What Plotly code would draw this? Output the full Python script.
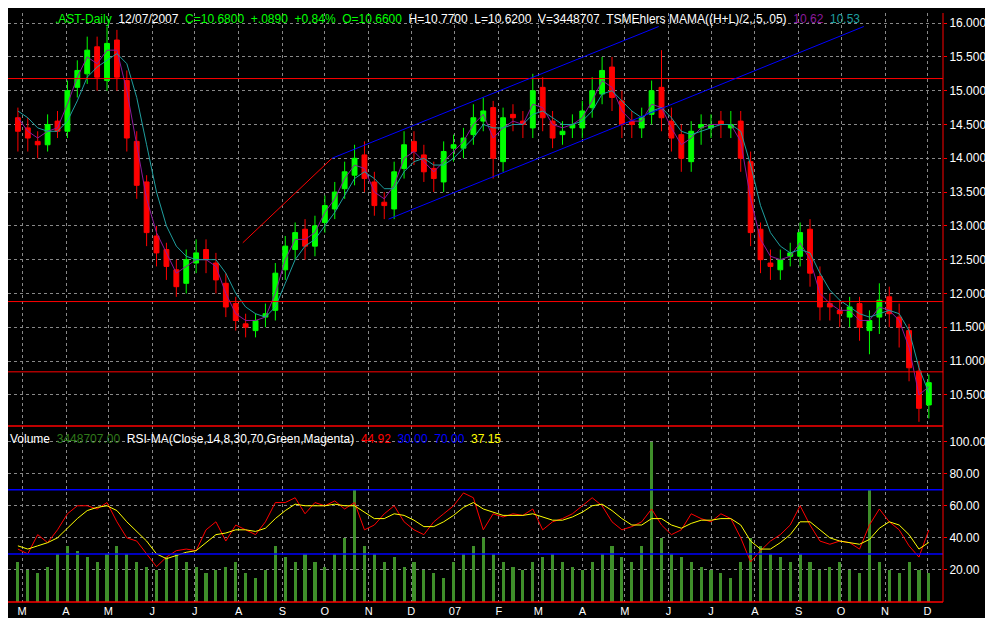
import pandas as pd
import plotly.graph_objects as go

# weekly bars
dates = pd.date_range("2006-02-26", periods=93, freq="7D")

closes = [14.4,14.3,14.2,14.5,14.4,15.0,15.3,15.6,15.2,15.7,
          15.2,14.3,13.6,12.9,12.6,12.4,12.1,12.5,12.6,12.5,
          12.2,11.8,11.6,11.5,11.6,11.7,12.3,12.7,12.9,12.7,
          13.0,13.3,13.5,13.8,14.0,13.7,13.3,13.3,13.8,14.2,
          14.1,13.8,13.7,14.1,14.2,14.3,14.6,14.7,14.0,14.6,
          14.6,14.5,15.0,14.6,14.3,14.4,14.5,14.7,15.0,15.3,
          14.9,14.5,14.5,14.6,15.0,14.6,14.3,14.0,14.4,14.5,
          14.5,14.5,14.5,14.0,12.9,12.5,12.4,12.5,12.6,12.9,
          12.3,11.8,11.8,11.7,11.8,11.5,11.6,11.9,11.7,11.5,
          10.9,10.3,10.68]
opens = [14.6,14.45,14.25,14.2,14.55,14.4,15.05,15.25,15.65,15.15,
         15.75,15.15,14.25,13.65,12.85,12.65,12.35,12.15,12.45,12.65,
         12.45,12.15,11.85,11.55,11.45,11.65,11.75,12.35,12.65,12.95,
         12.7,13.05,13.25,13.55,13.75,14.05,13.65,13.35,13.25,13.85,
         14.25,14.05,13.85,13.65,14.15,14.15,14.35,14.55,14.75,13.95,
         14.65,14.55,14.45,15.05,14.55,14.35,14.45,14.45,14.75,14.95,
         15.35,14.85,14.55,14.45,14.65,15.05,14.55,14.35,13.95,14.45,
         14.45,14.55,14.45,14.55,13.95,12.95,12.45,12.35,12.55,12.55,
         12.95,12.25,11.85,11.75,11.65,11.85,11.45,11.65,11.95,11.65,
         11.45,10.85,10.35]
highs = [14.75,14.6,14.4,14.65,14.7,15.15,15.45,15.8,15.8,15.95,
         15.9,15.3,14.4,13.75,13.0,12.75,12.5,12.65,12.8,12.8,
         12.6,12.3,11.95,11.7,11.7,11.85,12.45,12.85,13.05,13.1,
         13.15,13.45,13.65,13.95,14.2,14.25,13.8,13.5,13.95,14.4,
         14.4,14.2,13.95,14.25,14.35,14.45,14.8,14.9,14.85,14.75,
         14.8,14.7,15.25,15.2,14.7,14.55,14.65,14.85,15.2,15.5,
         15.5,15.0,14.7,14.75,15.15,15.6,14.75,14.5,14.55,14.65,
         14.65,14.7,14.7,14.7,14.1,13.05,12.65,12.65,12.75,13.05,
         13.1,12.4,12.0,11.9,11.95,11.95,11.75,12.15,12.1,11.85,
         11.55,11.0,10.8]
lows = [14.1,14.1,14.0,14.1,14.3,14.3,14.9,15.1,15.0,15.0,
        15.0,14.1,13.4,12.7,12.4,12.2,11.95,12.0,12.3,12.3,
        12.0,11.65,11.45,11.35,11.35,11.5,11.6,12.2,12.5,12.5,
        12.55,12.9,13.1,13.4,13.6,13.5,13.15,13.1,13.1,13.7,
        13.9,13.65,13.5,13.5,13.95,14.0,14.2,14.4,13.7,13.8,
        14.4,14.3,14.3,14.4,14.15,14.2,14.3,14.3,14.6,14.8,
        14.7,14.3,14.3,14.3,14.5,14.4,14.1,13.8,13.8,14.2,
        14.3,14.3,14.3,13.8,12.7,12.3,12.2,12.2,12.4,12.4,
        12.1,11.6,11.6,11.5,11.5,11.3,11.1,11.4,11.5,11.2,
        10.7,10.1,10.15]
mama = [14.6,14.4,14.3,14.4,14.45,14.8,15.2,15.5,15.4,15.6,
        15.6,15.0,14.2,13.4,12.9,12.6,12.3,12.4,12.5,12.5,
        12.4,12.0,11.7,11.6,11.6,11.65,12.0,12.5,12.8,12.8,
        12.9,13.2,13.4,13.7,13.9,13.85,13.5,13.4,13.6,14.0,
        14.1,13.95,13.8,13.95,14.1,14.25,14.5,14.65,14.3,14.45,
        14.55,14.5,14.8,14.75,14.5,14.45,14.5,14.6,14.85,15.15,
        15.05,14.7,14.55,14.55,14.8,14.75,14.45,14.2,14.3,14.45,
        14.5,14.5,14.5,14.25,13.4,12.8,12.55,12.5,12.55,12.75,
        12.5,12.0,11.85,11.75,11.75,11.6,11.6,11.8,11.75,11.6,
        11.2,10.5,10.62]
fama = [14.7,14.6,14.45,14.4,14.4,14.55,14.85,15.2,15.35,15.45,
        15.55,15.4,14.9,14.2,13.5,13.0,12.7,12.55,12.5,12.5,
        12.5,12.3,12.0,11.8,11.7,11.65,11.8,12.15,12.5,12.7,
        12.8,13.0,13.2,13.45,13.7,13.8,13.7,13.55,13.55,13.8,
        13.95,14.0,13.9,13.9,14.0,14.15,14.3,14.5,14.45,14.45,
        14.5,14.5,14.65,14.7,14.6,14.5,14.5,14.55,14.7,14.95,
        15.0,14.85,14.7,14.6,14.7,14.75,14.6,14.4,14.35,14.4,
        14.45,14.5,14.5,14.4,13.9,13.3,12.9,12.7,12.6,12.65,
        12.6,12.3,12.05,11.9,11.8,11.7,11.65,11.7,11.75,11.7,
        11.45,10.9,10.53]
rsi = [33,30,42,37,45,55,60,60,58,62,
       50,40,38,30,22,28,32,33,32,45,
       50,38,48,45,42,50,62,62,65,55,
       62,60,63,58,62,45,48,55,60,50,
       45,42,50,55,60,68,65,45,55,53,
       55,54,58,45,50,52,55,60,65,60,
       50,45,47,50,58,48,42,45,55,52,
       50,55,52,40,25,32,38,42,48,60,
       48,38,36,38,37,33,48,58,50,45,
       35,28,44.92]
rsi_ma = [35,33,35,37,40,46,52,57,59,60,
          57,50,44,38,30,27,29,31,32,37,
          42,43,45,45,44,46,52,57,61,60,
          60,60,61,60,60,56,52,52,55,54,
          51,47,47,50,54,59,62,58,56,54,
          54,54,55,53,51,51,53,56,60,61,
          57,52,48,48,52,52,48,46,49,51,
          51,52,52,48,38,33,33,37,42,50,
          50,45,40,38,37,36,39,46,50,48,
          42,33,37.15]
volume = [25,20,18,22,30,35,32,28,25,30,
          35,30,25,22,20,28,30,25,22,18,
          20,22,25,18,15,20,35,28,25,30,
          25,22,30,40,70,35,30,25,28,22,
          25,20,18,15,25,30,35,40,30,25,
          22,20,25,28,30,25,22,20,25,30,
          35,28,25,35,100,40,30,28,25,22,
          20,18,15,25,40,35,30,28,25,30,
          25,20,22,25,20,18,70,25,20,18,
          25,20,18]

h_levels = [15.18, 11.88, 10.84]
rsi_levels = [30, 70]
# drawn trendlines: (date0, price0, date1, price1, colour)
trendlines = [("2006-08-04", 12.75, "2006-10-06", 14.0, "#ff0000"),
              ("2006-10-06", 14.0, "2007-05-25", 15.95, "#0000ff"),
              ("2006-11-15", 13.1, "2007-10-17", 15.95, "#0000ff")]

month_ticks = pd.date_range("2006-03-01", "2007-12-01", freq="MS")
month_text = ["M","A","M","J","J","A","S","O","N","D","07",
              "F","M","A","M","J","J","A","S","O","N","D"]

fig = go.Figure()
fig.add_trace(go.Candlestick(
    x=dates, open=opens, high=highs, low=lows, close=closes,
    increasing=dict(line=dict(color="#00ff00", width=1), fillcolor="#00ff00"),
    decreasing=dict(line=dict(color="#ff0000", width=1), fillcolor="#ff0000"),
    whiskerwidth=0, yaxis="y2", showlegend=False))
fig.add_trace(go.Scatter(x=dates, y=mama, mode="lines", yaxis="y2",
                         line=dict(color="#8b1a9b", width=1), showlegend=False))
fig.add_trace(go.Scatter(x=dates, y=fama, mode="lines", yaxis="y2",
                         line=dict(color="#1f9e9e", width=1), showlegend=False))

fig.add_trace(go.Bar(x=dates, y=volume, marker=dict(color="#3f8f2a", line=dict(width=0)),
                     width=2.2 * 86400000, showlegend=False))
fig.add_trace(go.Scatter(x=dates, y=rsi, mode="lines",
                         line=dict(color="#ff0000", width=1), showlegend=False))
fig.add_trace(go.Scatter(x=dates, y=rsi_ma, mode="lines",
                         line=dict(color="#ffff00", width=1), showlegend=False))

for lv in h_levels:
    fig.add_shape(type="line", xref="paper", x0=0, x1=1, yref="y2", y0=lv, y1=lv,
                  line=dict(color="#ff0000", width=1))
for lv in rsi_levels:
    fig.add_shape(type="line", xref="paper", x0=0, x1=1, yref="y", y0=lv, y1=lv,
                  line=dict(color="#0000ff", width=1.5))
for d0, p0, d1, p1, c in trendlines:
    fig.add_shape(type="line", xref="x", yref="y2", x0=d0, y0=p0, x1=d1, y1=p1,
                  line=dict(color=c, width=1))

red = "#ff0000"
fig.add_shape(type="line", xref="paper", yref="paper", x0=0, x1=1.0, y0=0.299, y1=0.299,
              line=dict(color=red, width=1.5))
fig.add_shape(type="line", xref="paper", yref="paper", x0=0, x1=1.0, y0=0.0, y1=0.0,
              line=dict(color=red, width=1.5))
fig.add_shape(type="line", xref="paper", yref="paper", x0=1.0, x1=1.0, y0=0, y1=1,
              line=dict(color=red, width=1))

font = "Liberation Sans, Arial, sans-serif"

fig.add_annotation(xref="paper", yref="paper", x=0.048, y=1.005, xanchor="left", yanchor="top",
                   showarrow=False, font=dict(size=12, family=font),
                   text="<span style='color:#00ff00'>.AST-Daily</span>  "
                        "<span style='color:#ffffff'>12/07/2007</span>  "
                        "<span style='color:#00ff00'>C=10.6800  +.0890  +0.84%  O=10.6600</span>  "
                        "<span style='color:#ffffff'>H=10.7700  L=10.6200  V=3448707  "
                        "TSMEhlers MAMA((H+L)/2,.5,.05)</span>  "
                        "<span style='color:#8b1a9b'>10.62</span>  "
                        "<span style='color:#1f9e9e'>10.53</span>")
fig.add_annotation(xref="paper", yref="paper", x=0, y=0.292, xanchor="left", yanchor="top",
                   showarrow=False, font=dict(size=12, family=font),
                   text="<span style='color:#ffffff'>Volume</span>  "
                        "<span style='color:#2f7a1a'>3448707.00</span>  "
                        "<span style='color:#ffffff'>RSI-MA(Close,14,8,30,70,Green,Magenta)</span>  "
                        "<span style='color:#ff0000'>44.92</span>  "
                        "<span style='color:#0000ff'>30.00</span>  "
                        "<span style='color:#0000ff'>70.00</span>  "
                        "<span style='color:#ffff00'>37.15</span>")

grid = dict(showgrid=True, gridcolor="#888888", griddash="dot", gridwidth=1)
fig.update_layout(
    width=993, height=618,
    paper_bgcolor="#000000", plot_bgcolor="#000000",
    margin=dict(l=0, r=58, t=5, b=24),
    bargap=0,
    xaxis=dict(type="date", range=["2006-02-19", "2007-12-12"], tickvals=month_ticks,
               ticktext=month_text, tickfont=dict(color="#ffffff", size=11, family=font),
               ticklen=0, ticklabelstandoff=1,
               rangeslider=dict(visible=False), zeroline=False, **grid),
    yaxis=dict(domain=[0, 0.299], range=[0, 109.8], side="right", tickvals=[20, 40, 60, 80, 100],
               tickformat=".2f", ticks="outside", tickcolor=red, ticklen=3,
               tickfont=dict(color="#ffffff", size=12, family=font), zeroline=False, **grid),
    yaxis2=dict(domain=[0.299, 1], range=[10.04, 16.15], side="right",
                tickvals=[10.5, 11, 11.5, 12, 12.5, 13, 13.5, 14, 14.5, 15, 15.5, 16],
                tickformat=".4f", ticks="outside", tickcolor=red, ticklen=3,
                tickfont=dict(color="#ffffff", size=12, family=font), zeroline=False, **grid),
)

fig.write_html("out.html")
